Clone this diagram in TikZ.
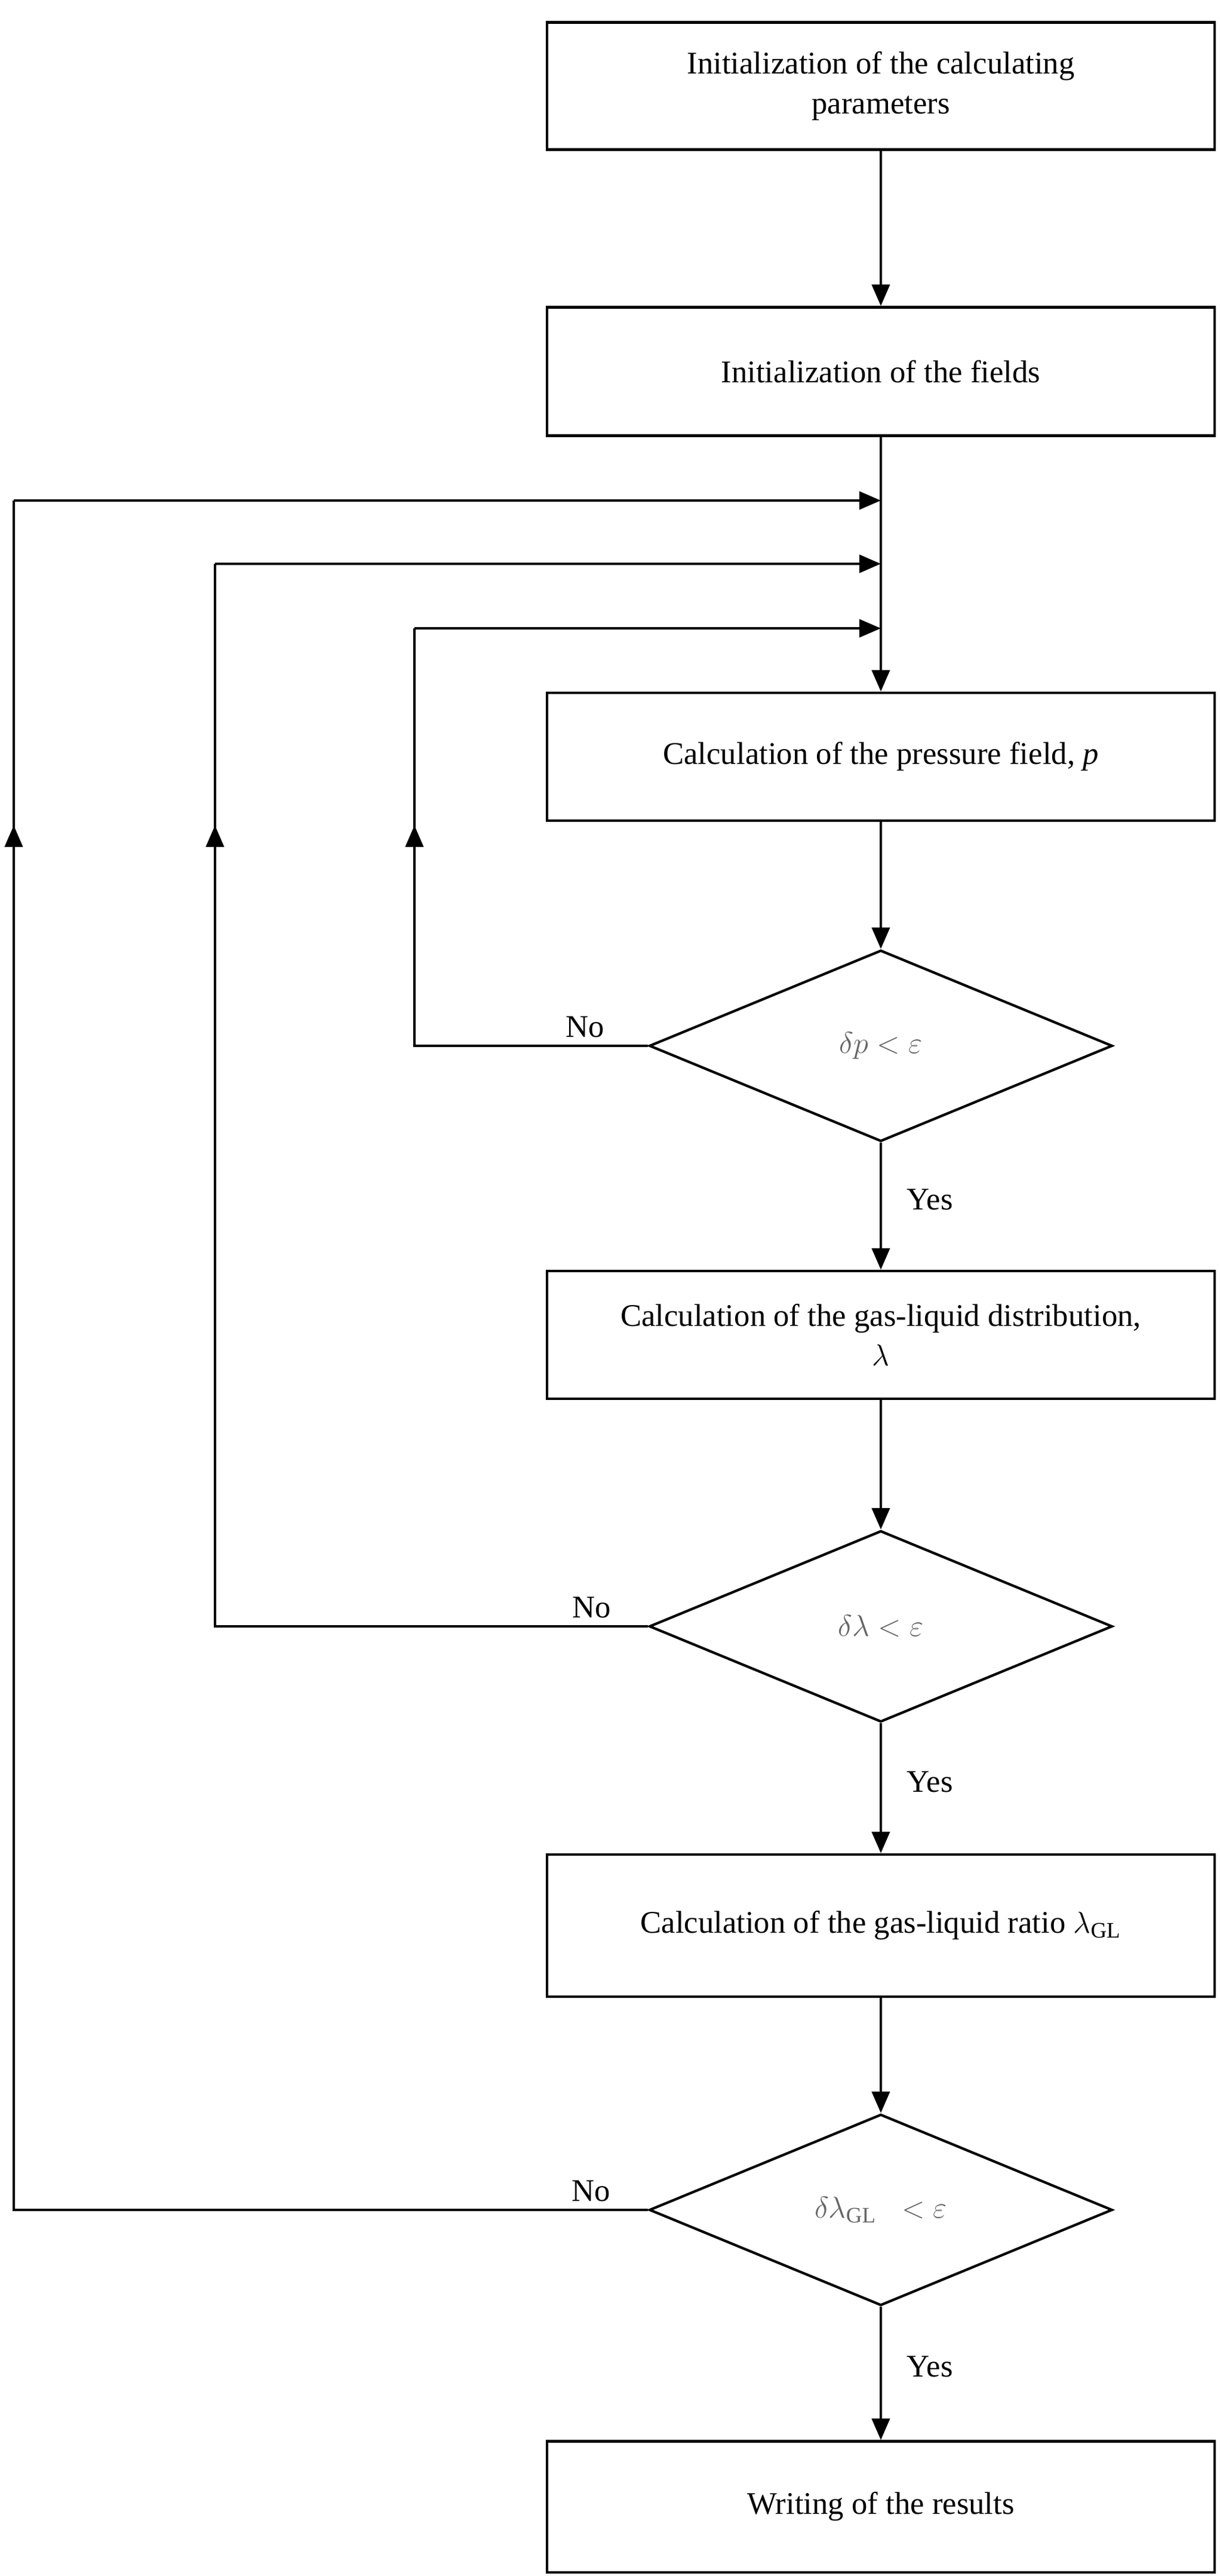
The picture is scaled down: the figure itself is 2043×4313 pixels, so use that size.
\documentclass[tikz,border=0pt]{standalone}
\usepackage{fontspec}
\setmainfont{Liberation Serif}
\usetikzlibrary{shapes.geometric,arrows.meta}
\begin{document}
\begin{tikzpicture}[x=0.01cm,y=-0.01cm,
  line width=1.2pt,
  box/.style={draw,minimum width=11.17cm,align=center,font=\fontsize{15}{19}\selectfont,inner sep=0pt},
  dia/.style={draw,diamond,minimum width=7.75cm,minimum height=3.2cm,aspect=2.42,inner sep=0pt,font=\fontsize{15}{18}\selectfont,text=black!60},
  lbl/.style={font=\fontsize{15}{18}\selectfont},
  arr/.style={-{Triangle[length=0.36cm,width=0.3cm]}}]
\useasboundingbox (0,0) rectangle (2043,4313);
\node[box,minimum height=2.13cm] (b1) at (1475,144) {Initialization of the calculating\\parameters};
\node[box,minimum height=2.15cm] (b2) at (1475,622) {Initialization of the fields};
\node[box,minimum height=2.14cm] (b3) at (1475,1267) {Calculation of the pressure field, $\mathit{p}$};
\node[dia] (d1) at (1475,1751) {$\delta p<\varepsilon$};
\node[box,minimum height=2.14cm] (b4) at (1475,2235) {Calculation of the gas-liquid distribution,\\$\lambda$};
\node[dia] (d2) at (1475,2723) {$\delta\lambda<\varepsilon$};
\node[box,minimum height=2.38cm] (b5) at (1475,3224) {Calculation of the gas-liquid ratio $\lambda_{\mathrm{GL}}$};
\node[dia] (d3) at (1475,3700) {$\delta\lambda_{\mathrm{GL}}\;\;<\varepsilon$};
\node[box,minimum height=2.19cm] (b6) at (1475,4197) {Writing of the results};
\coordinate (m1) at (1475,838);
\coordinate (m2) at (1475,944);
\coordinate (m3) at (1475,1052);
\coordinate (l1) at (23,3700);
\coordinate (l2) at (360,2723);
\coordinate (l3) at (694,1751);
\coordinate (t1) at (23,1382);
\coordinate (t2) at (360,1382);
\coordinate (t3) at (694,1382);
\draw[arr] (b1) -- (b2);
\draw[arr] (b2) -- (b3);
\draw[arr] (b3) -- (d1);
\draw[arr] (d1) -- node[lbl,right=0.3cm,pos=0.45]{Yes} (b4);
\draw[arr] (b4) -- (d2);
\draw[arr] (d2) -- node[lbl,right=0.3cm,pos=0.45]{Yes} (b5);
\draw[arr] (b5) -- (d3);
\draw[arr] (d3) -- node[lbl,right=0.3cm,pos=0.45]{Yes} (b6);
\draw (d1.west) -- node[lbl,above,pos=0.27]{No} (l3) -- (t3 |- m3);
\draw[arr] (l3) -- (t3);
\draw[arr] (t3 |- m3) -- (m3);
\draw (d2.west) -- node[lbl,above,pos=0.13]{No} (l2) -- (t2 |- m2);
\draw[arr] (l2) -- (t2);
\draw[arr] (t2 |- m2) -- (m2);
\draw (d3.west) -- node[lbl,above,pos=0.09]{No} (l1) -- (t1 |- m1);
\draw[arr] (l1) -- (t1);
\draw[arr] (t1 |- m1) -- (m1);
\end{tikzpicture}
\end{document}
